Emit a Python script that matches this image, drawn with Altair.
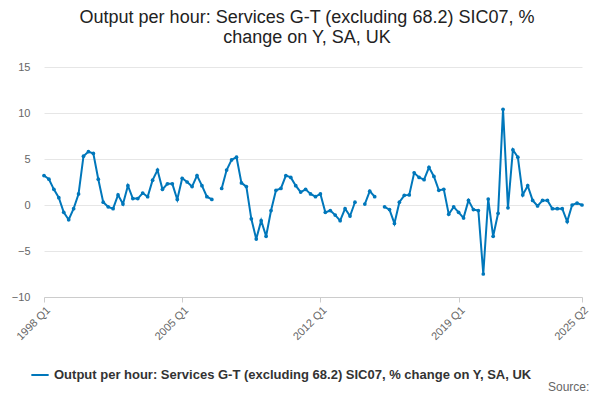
import altair as alt
import pandas as pd

values = [3.2,2.8,1.7,0.8,-0.8,-1.6,-0.4,1.2,5.3,5.8,5.6,2.8,0.3,-0.2,-0.4,1.1,0.1,2.1,0.7,0.7,
          1.3,0.9,2.7,3.8,1.7,2.3,2.3,0.6,2.9,2.5,2.0,3.2,2.1,0.9,0.6,None,1.8,3.8,4.9,5.2,
          2.4,2.0,-1.5,-3.7,-1.7,-3.4,-0.6,1.6,1.8,3.2,3.0,2.1,1.4,1.7,1.2,0.9,1.2,-0.8,-0.6,-1.1,
          -1.7,-0.4,-1.2,0.3,None,0.1,1.5,0.9,None,-0.2,-0.5,-2.0,0.3,1.05,1.1,3.5,3.0,2.75,4.1,3.1,
          1.6,1.7,-1.0,-0.2,-0.8,-1.4,0.5,-0.5,-0.6,-7.5,0.65,-3.4,-0.9,10.4,-0.3,6.0,5.2,1.1,2.1,0.5,
          -0.1,0.5,0.5,-0.4,-0.4,-0.4,-1.8,0.0,0.2,0.0]
labels = []
for i in range(len(values)):
    labels.append(f"{1998 + i // 4} Q{i % 4 + 1}")
tick_idx = [0, 28, 56, 84, 109]
series = "Output per hour: Services G-T (excluding 68.2) SIC07, % change on Y, SA, UK"

df = pd.DataFrame({"i": list(range(len(values))), "v": values, "q": labels, "s": series})
label_expr = "{" + ",".join(f"'{i}':'{labels[i]}'" for i in tick_idx) + "}[datum.value]"

color = alt.Color("s:N", scale=alt.Scale(range=["#0077bb"]),
                  legend=alt.Legend(title=None, orient="none", legendX=-14, legendY=298,
                                    labelFontSize=13, labelFontWeight="bold", labelColor="#333",
                                    symbolType="stroke", symbolStrokeWidth=2, symbolSize=300,
                                    labelLimit=600, labelFont="Liberation Sans"))
x = alt.X("i:Q", scale=alt.Scale(domain=[0, 109], nice=False, zero=False),
          axis=alt.Axis(values=tick_idx, labelExpr=label_expr, labelAngle=-45, grid=False,
                        title=None, labelColor="#666", labelFontSize=11, domainColor="#ccc",
                        tickColor="#ccc", labelAlign="right", labelBaseline="top",
                        labelFont="Liberation Sans"))
y = alt.Y("v:Q", scale=alt.Scale(domain=[-10, 15]),
          axis=alt.Axis(values=[-10, -5, 0, 5, 10, 15], title=None, domain=False, ticks=False,
                        labelColor="#666", labelFontSize=11, gridColor="#e6e6e6",
                        labelPadding=14, labelFont="Liberation Sans"))

line = alt.Chart(df).mark_line(strokeWidth=2).encode(x=x, y=y, color=color)
pts = alt.Chart(df).mark_point(filled=True, size=14, opacity=1).encode(x=x, y=y, color=color)
src = alt.Chart(pd.DataFrame({"t": ["Source:"]})).mark_text(
    align="left", fontSize=12, color="#666", font="Liberation Sans").encode(
    x=alt.value(504), y=alt.value(320), text="t:N")

chart = (line + pts + src).properties(
    width=538, height=230,
    autosize=alt.AutoSizeParams(type="none"),
    padding={"left": 36, "top": 59, "right": 10, "bottom": 95},
    title=alt.Title(["Output per hour: Services G-T (excluding 68.2) SIC07, %", "change on Y, SA, UK"],
                    fontSize=18, fontWeight=500, color="#222", anchor="middle",
                    offset=14, font="Liberation Sans", dx=-6),
).configure_view(stroke=None)

chart.save("out.html", embed_options={"renderer": "svg", "actions": False})
